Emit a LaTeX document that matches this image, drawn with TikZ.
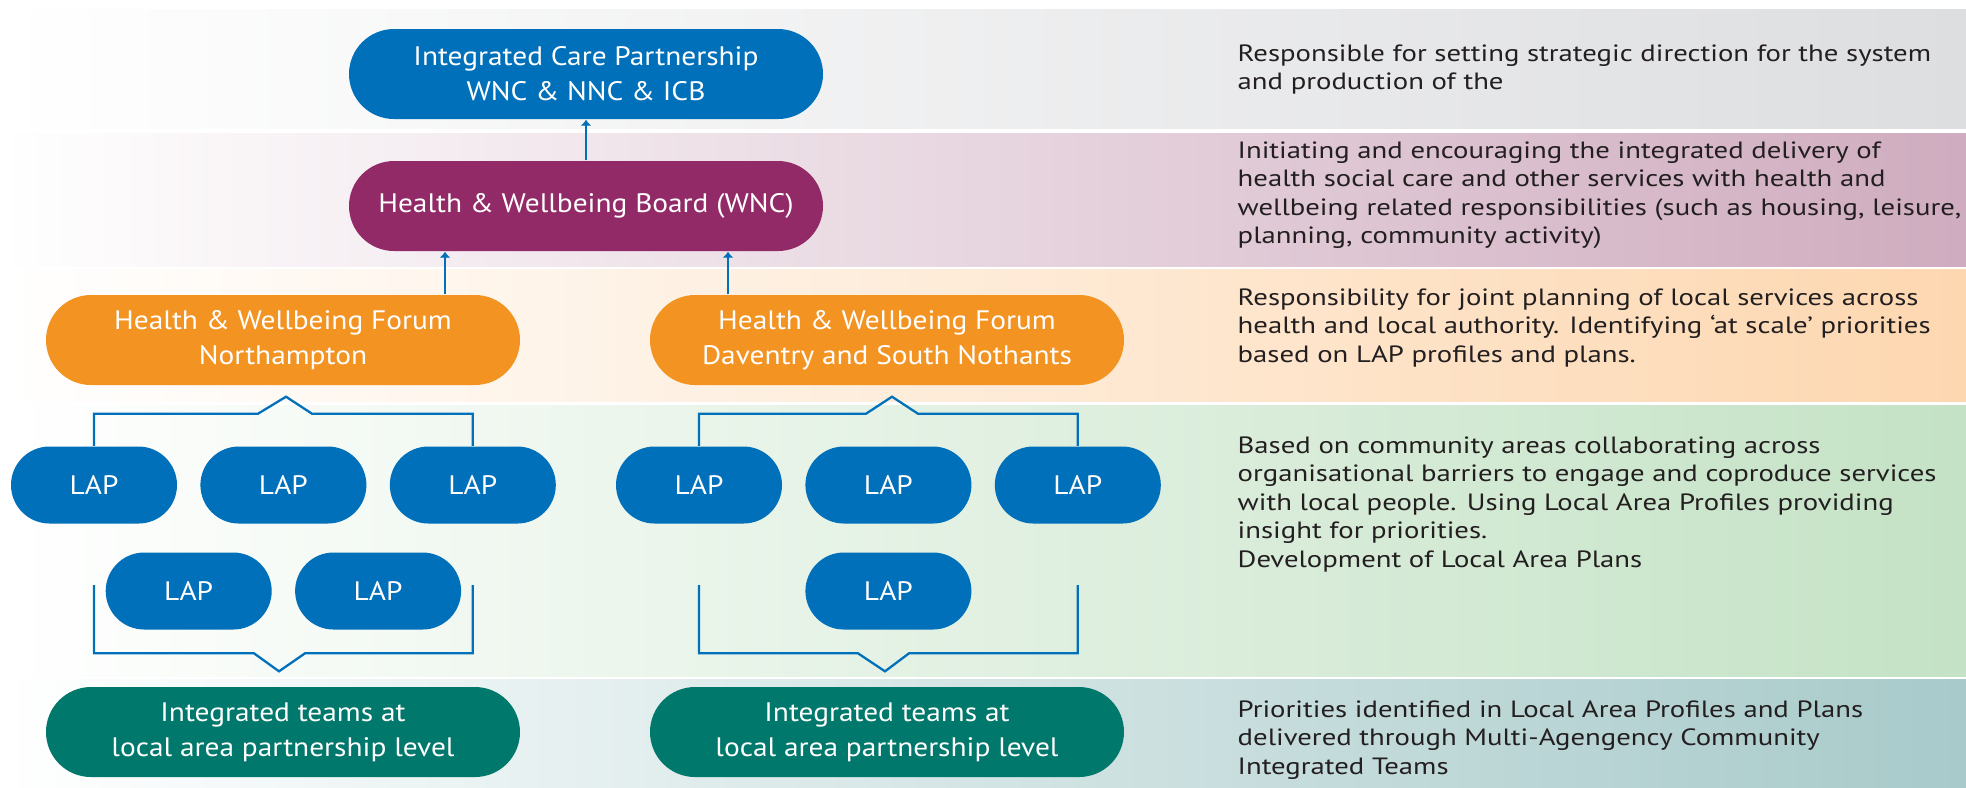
\documentclass[tikz,border=0pt]{standalone}
\usepackage{fontspec}
\setmainfont{PT Sans}
\newfontfamily\pillfont[FakeStretch=1.1,Ligatures=TeX]{PT Sans}
\newfontfamily\notefont[FakeStretch=1.22,Ligatures=TeX]{PT Sans}
\usetikzlibrary{
    arrows.meta,
    positioning,
    shapes.misc,
    calc
}

\definecolor{lapblue}{RGB}{0,112,186}
\definecolor{hwbpurple}{RGB}{146,42,103}
\definecolor{forumorange}{RGB}{243,147,34}
\definecolor{teamsteal}{RGB}{0,120,108}
\definecolor{bandgrey}{RGB}{221,222,224}
\definecolor{bandmauve}{RGB}{207,172,191}
\definecolor{bandpeach}{RGB}{253,215,176}
\definecolor{bandgreen}{RGB}{196,226,197}
\definecolor{bandslate}{RGB}{168,202,202}
\definecolor{notetext}{RGB}{35,31,32}

\begin{document}
\begin{tikzpicture}[
  pill/.style={rounded rectangle,align=center,text=white,inner sep=0pt,
    minimum height=0.9cm,minimum width=4.74cm,font=\pillfont\fontsize{7.6}{10}\selectfont},
  lap/.style={pill,fill=lapblue,minimum height=0.77cm,minimum width=1.66cm},
  arrow/.style={-{Latex[length=0.6mm,width=1.1mm]},draw=lapblue,line width=0.8pt},
  bracket/.style={draw=lapblue,line width=0.65pt},
  note/.style={anchor=north west,align=left,inner sep=0pt,text=notetext,
    font=\notefont\fontsize{6.7}{8.1}\selectfont}
]
\useasboundingbox (0,0) rectangle (19.66,-7.87);
% background bands
\shade[left color=white,right color=bandgrey] (0,-0.09) rectangle (19.66,-1.28);
\shade[left color=white,right color=bandmauve] (0,-1.33) rectangle (19.66,-2.66);
\shade[left color=white,right color=bandpeach] (0,-2.69) rectangle (19.66,-4.01);
\shade[left color=white,right color=bandgreen] (0,-4.05) rectangle (19.66,-6.76);
\shade[left color=white,right color=bandslate] (0,-6.79) rectangle (19.66,-7.87);

% governance levels
\node[pill,fill=lapblue] (icp) at (5.86,-0.74) {Integrated Care Partnership\\WNC \& NNC \& ICB};
\node[pill,fill=hwbpurple] (hwb) at (5.86,-2.06) {Health \& Wellbeing Board (WNC)};
\node[pill,fill=forumorange] (forumN) at (2.83,-3.40) {Health \& Wellbeing Forum\\Northampton};
\node[pill,fill=forumorange] (forumD) at (8.87,-3.40) {Health \& Wellbeing Forum\\Daventry and South Nothants};

% local area partnerships
\node[lap] (lapN1) at (0.94,-4.85) {LAP};
\node[lap,right=0.22cm of lapN1] (lapN2) {LAP};
\node[lap,right=0.22cm of lapN2] (lapN3) {LAP};
\node[lap] (lapN4) at ($(lapN1)!0.5!(lapN2)+(0,-1.06)$) {LAP};
\node[lap] (lapN5) at ($(lapN2)!0.5!(lapN3)+(0,-1.06)$) {LAP};
\node[lap] (lapD1) at (6.99,-4.85) {LAP};
\node[lap,right=0.22cm of lapD1] (lapD2) {LAP};
\node[lap,right=0.22cm of lapD2] (lapD3) {LAP};
\node[lap] (lapD4) at ($(lapD2)+(0,-1.06)$) {LAP};

\node[pill,fill=teamsteal] (teamsN) at (2.83,-7.32) {Integrated teams at\\local area partnership level};
\node[pill,fill=teamsteal] (teamsD) at (8.87,-7.32) {Integrated teams at\\local area partnership level};

% connectors
\draw[arrow] (hwb.north) -- (icp.south);
\draw[arrow] ([xshift=1.62cm]forumN.north) -- ([xshift=1.62cm]forumN.north |- hwb.south);
\draw[arrow] ([xshift=-1.59cm]forumD.north) -- ([xshift=-1.59cm]forumD.north |- hwb.south);

\draw[bracket] (lapN1.north) |- ([xshift=-0.25cm,yshift=-0.28cm]forumN.south)
  -- ([xshift=0.03cm,yshift=-0.11cm]forumN.south)
  -- ([xshift=0.29cm,yshift=-0.28cm]forumN.south) -| (lapN3.north);
\draw[bracket] (lapD1.north) |- ([xshift=-0.21cm,yshift=-0.28cm]forumD.south)
  -- ([xshift=0.05cm,yshift=-0.11cm]forumD.south)
  -- ([xshift=0.31cm,yshift=-0.28cm]forumD.south) -| (lapD3.north);
\draw[bracket] ([yshift=0.06cm]lapN1 |- lapN4.west) |- ([xshift=-0.29cm,yshift=0.33cm]teamsN.north)
  -- ([xshift=-0.04cm,yshift=0.15cm]teamsN.north)
  -- ([xshift=0.22cm,yshift=0.33cm]teamsN.north) -| ([yshift=0.06cm]lapN3 |- lapN5.west);
\draw[bracket] ([yshift=0.06cm]lapD1 |- lapD4.west) |- ([xshift=-0.29cm,yshift=0.33cm]teamsD.north)
  -- ([xshift=-0.02cm,yshift=0.15cm]teamsD.north)
  -- ([xshift=0.22cm,yshift=0.33cm]teamsD.north) -| ([yshift=0.06cm]lapD3 |- lapD4.west);

% descriptions
\node[note] (noteICP) at (12.37,-0.44) {Responsible for setting strategic direction for the system\\and production of the};
\node[note] (noteHWB) at (12.37,-1.41) {Initiating and encouraging the integrated delivery of\\health social care and other services with health and\\wellbeing related responsibilities (such as housing, leisure,\\planning, community activity)};
\node[note] (noteForum) at (12.37,-2.88) {Responsibility for joint planning of local services across\\health and local authority. Identifying ‘at scale’ priorities\\based on LAP profiles and plans.};
\node[note] (noteLAP) at (12.37,-4.36) {Based on community areas collaborating across\\organisational barriers to engage and coproduce services\\with local people. Using Local Area Profiles providing\\insight for priorities.\\Development of Local Area Plans};
\node[note] (noteTeams) at (12.37,-7.00) {Priorities identified in Local Area Profiles and Plans\\delivered through Multi-Agengency Community\\Integrated Teams};
\end{tikzpicture}
\end{document}
